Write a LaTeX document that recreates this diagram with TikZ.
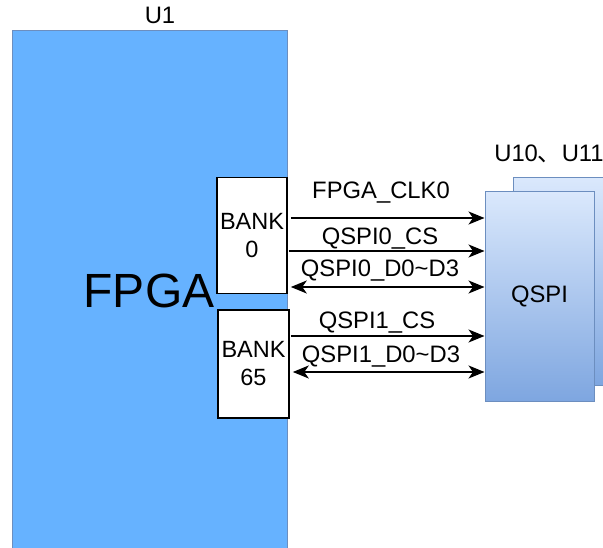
\documentclass[tikz,border=0pt]{standalone}
\usepackage{fontspec}
\setmainfont{Liberation Sans}
\newfontfamily\cjk{Noto Sans CJK SC}
\usetikzlibrary{arrows.meta}
\definecolor{fpgafill}{HTML}{66B2FF}
\definecolor{fpgaline}{HTML}{6C8EBF}
\definecolor{qtop}{HTML}{DAE8FC}
\definecolor{qbot}{HTML}{7EA6E0}
\tikzset{
  txt/.style={font=\fontsize{23.8}{26}\selectfont, inner sep=0pt},
  bankbox/.style={draw=black, line width=1.6pt, fill=white, inner sep=0pt, align=center,
    font=\fontsize{23.5}{28}\selectfont},
  qbox/.style={draw=fpgaline, line width=1pt, top color=qtop, bottom color=qbot},
  tip/.style={Stealth[length=16pt,width=13pt,inset=4.5pt]},
  sig/.style={line width=1.8pt, -{Stealth[length=16pt,width=13pt,inset=4.5pt]}},
  bisig/.style={line width=1.8pt, {Stealth[length=16pt,width=13pt,inset=4.5pt]}-{Stealth[length=16pt,width=13pt,inset=4.5pt]}},
}
\begin{document}
\begin{tikzpicture}[x=1pt,y=-1pt]
\clip (0,0) rectangle (603,548);
\fill[white] (0,0) rectangle (603,548);
% FPGA
\draw[fill=fpgafill, draw=fpgaline, line width=1pt] (12,31) rectangle (287,560);
\node[txt] (u1) at (160,15) {U1};
\node[font=\fontsize{48}{52}\selectfont, inner sep=0pt] (fpga) at (149,291) {FPGA};
% banks
\node[bankbox, minimum width=70pt, minimum height=116pt] (bank0) at (252,235.5) {BANK\\0};
\node[bankbox, minimum width=71pt, minimum height=108pt] (bank65) at (253.5,364) {BANK\\65};
% QSPI
\node[qbox, minimum width=110pt, minimum height=207pt] (qback) at (568,281.5) {};
\node[qbox, minimum width=109pt, minimum height=209pt, font=\fontsize{23.8}{26}\selectfont] (qspi) at (539.5,296.5) {QSPI};
\node[txt] (u10) at (549,154) {U10{\cjk 、}U11};
% signals
\draw[sig] ([xshift=3pt]bank0.east |- 0,218) -- (qspi.west |- 0,218);
\draw[sig] ([xshift=1pt]bank0.east |- 0,251) -- (qspi.west |- 0,251);
\draw[bisig] ([xshift=3pt]bank0.east |- 0,287) -- (qspi.west |- 0,287);
\draw[sig] ([xshift=1pt]bank65.east |- 0,336) -- (qspi.west |- 0,336);
\draw[bisig] ([xshift=3pt]bank65.east |- 0,372) -- (qspi.west |- 0,372);
% labels
\node[txt] (l1) at (381,193) {FPGA\_CLK0};
\node[txt] (l2) at (380,239) {QSPI0\_CS};
\node[txt] (l3) at (380,271) {QSPI0\_D0\textasciitilde D3};
\node[txt] (l4) at (377,323) {QSPI1\_CS};
\node[txt] (l5) at (381,357) {QSPI1\_D0\textasciitilde D3};
\end{tikzpicture}
\end{document}
